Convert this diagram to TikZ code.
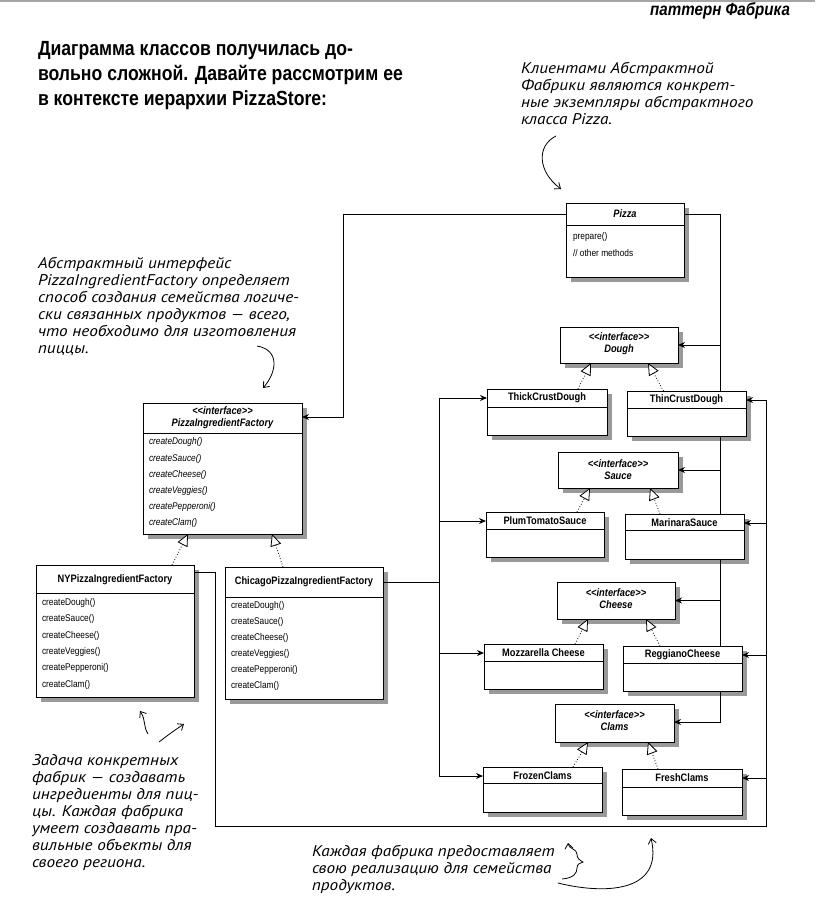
\documentclass[tikz,border=0pt]{standalone}
\usepackage{fontspec}
\usetikzlibrary{arrows.meta,fit}
\newfontfamily\umlfont[FakeStretch=0.86]{Liberation Sans}
\newfontfamily\handfont[FakeStretch=1.11]{PT Sans}

\pgfdeclarelayer{paper}
\pgfdeclarelayer{shadowlayer}
\pgfdeclarelayer{wirelayer}
\pgfsetlayers{paper,shadowlayer,wirelayer,main}

\tikzset{
  every node/.style={inner sep=0pt, outer sep=0pt},
  classframe/.style={draw=black, line width=0.7pt, fill=white, inner sep=0pt, fit=#1},
  boxshadow/.style={fill=black!40},
  wire/.style={line width=1pt},
  assoc/.style={wire, -{Stealth[length=7pt,width=6pt]}},
  bothassoc/.style={wire, {Stealth[length=7pt,width=6pt]}-{Stealth[length=7pt,width=6pt]}},
  realize/.style={line width=0.8pt, dotted, -{Triangle[fill=white,length=12pt,width=11pt,line width=0.8pt]}},
  ctitle/.style={font=\umlfont\bfseries\fontsize{10.8}{12}\selectfont},
  ititle/.style={font=\umlfont\bfseries\itshape\fontsize{10.8}{12}\selectfont},
  method/.style={anchor=west, font=\umlfont\fontsize{9.7}{11}\selectfont},
  imethod/.style={anchor=west, font=\umlfont\itshape\fontsize{9.7}{11}\selectfont},
  handnote/.style={anchor=north west, align=left, font=\handfont\itshape\fontsize{15.5}{17}\selectfont},
  pen/.style={line width=0.8pt, -{Straight Barb[length=5pt,width=8pt]}},
}

% #1 name, (#2,#3) top left corner, (#4,#5) bottom right corner, #6 divider y (empty: none)
\newcommand{\umlclass}[6]{%
  \begin{pgfonlayer}{shadowlayer}
    \fill[boxshadow] (#2+5,#3+5) rectangle (#4+5,#5+5);
  \end{pgfonlayer}
  \coordinate (#1-nw) at (#2,#3);
  \coordinate (#1-se) at (#4,#5);
  \node[classframe=(#1-nw)(#1-se)] (#1) {};
  \ifx&#6&\else\draw[line width=0.6pt] (#2,#6) -- (#4,#6);\fi
}

\begin{document}
\begin{tikzpicture}[x=1pt,y=-1pt]
\useasboundingbox (0,0) rectangle (819,918);
\begin{pgfonlayer}{paper}
  \fill[white] (0,0) rectangle (819,918);
\end{pgfonlayer}

% page header
\draw[black!35, line width=2.5pt] (0,1) -- (815,1);
\node[anchor=east, font=\umlfont\bfseries\itshape\fontsize{17.6}{19}\selectfont] (header) at (790,11) {паттерн Фабрика};

% heading
\node[anchor=north west, align=left, font=\umlfont\bfseries\fontsize{20.5}{25}\selectfont] (heading) at (38,41)
  {Диаграмма классов получилась до-\\вольно сложной. Давайте рассмотрим ее\\в контексте иерархии PizzaStore:};

% ---------------- classes ----------------
\umlclass{pizza}{566}{203}{684}{277}{225}
\node[ititle] (pizza-title) at (625,214) {Pizza};
\node[method] (pizza-m1) at (573,237) {prepare()};
\node[method] (pizza-m2) at (573,253) {// other methods};

\umlclass{dough}{560}{327}{678}{363}{}
\node[ititle, align=center] (dough-title) at (619,344) {<{}<interface>{}>\\Dough};
\umlclass{thick}{487}{389}{607}{435}{407}
\node[ctitle] (thick-title) at (547,398) {ThickCrustDough};
\umlclass{thin}{627}{391}{746}{436}{408}
\node[ctitle] (thin-title) at (686.5,400) {ThinCrustDough};

\umlclass{sauce}{558}{452}{678}{488}{}
\node[ititle, align=center] (sauce-title) at (618,470) {<{}<interface>{}>\\Sauce};
\umlclass{plum}{486}{512}{604}{557}{529}
\node[ctitle] (plum-title) at (545,521) {PlumTomatoSauce};
\umlclass{marinara}{625}{514}{744}{559}{530}
\node[ctitle] (marinara-title) at (684.5,523) {MarinaraSauce};

\umlclass{cheese}{557}{582}{675}{619}{}
\node[ititle, align=center] (cheese-title) at (616,599) {<{}<interface>{}>\\Cheese};
\umlclass{mozz}{484}{644}{603}{689}{661}
\node[ctitle] (mozz-title) at (543.5,653) {Mozzarella Cheese};
\umlclass{regg}{623}{646}{742}{691}{663}
\node[ctitle] (regg-title) at (682.5,655) {ReggianoCheese};

\umlclass{clams}{555}{704}{674}{742}{}
\node[ititle, align=center] (clams-title) at (614.5,721) {<{}<interface>{}>\\Clams};
\umlclass{frozen}{483}{767}{602}{812}{783}
\node[ctitle] (frozen-title) at (542.5,776) {FrozenClams};
\umlclass{fresh}{622}{769}{742}{815}{787}
\node[ctitle] (fresh-title) at (682,778) {FreshClams};

\umlclass{pif}{143}{403}{302}{534}{433}
\node[ititle, align=center] (pif-title) at (222.5,418) {<{}<interface>{}>\\PizzaIngredientFactory};
\node[imethod] (pif-m1) at (149,442) {createDough()};
\node[imethod] (pif-m2) at (149,459) {createSauce()};
\node[imethod] (pif-m3) at (149,475) {createCheese()};
\node[imethod] (pif-m4) at (149,491) {createVeggies()};
\node[imethod] (pif-m5) at (149,507) {createPepperoni()};
\node[imethod] (pif-m6) at (149,523) {createClam()};

\umlclass{ny}{36}{565}{194}{697}{593}
\node[ctitle] (ny-title) at (115,580) {NYPizzaIngredientFactory};
\node[method] (ny-m1) at (42,603) {createDough()};
\node[method] (ny-m2) at (42,619) {createSauce()};
\node[method] (ny-m3) at (42,636) {createCheese()};
\node[method] (ny-m4) at (42,652) {createVeggies()};
\node[method] (ny-m5) at (42,668) {createPepperoni()};
\node[method] (ny-m6) at (42,685) {createClam()};

\umlclass{chicago}{225}{567}{383}{699}{597}
\node[ctitle] (chicago-title) at (304,582) {ChicagoPizzaIngredientFactory};
\node[method] (chicago-m1) at (231,606) {createDough()};
\node[method] (chicago-m2) at (231,622) {createSauce()};
\node[method] (chicago-m3) at (231,638) {createCheese()};
\node[method] (chicago-m4) at (231,654) {createVeggies()};
\node[method] (chicago-m5) at (231,670) {createPepperoni()};
\node[method] (chicago-m6) at (231,686) {createClam()};

% ---------------- connectors ----------------
\begin{pgfonlayer}{wirelayer}
  % Pizza uses the factory
  \coordinate (colA) at (343,417);
  \draw[assoc] (pizza.west |- pizza-title) -| (colA) -- (pif.east |- colA);

  % Pizza holds the ingredient interfaces
  \coordinate (busI) at (720,722);
  \draw[assoc] (pizza.east |- pizza-title) -| (busI) -- (clams.east |- busI);
  \draw[assoc] (busI |- dough.east) -- (dough.east);
  \draw[assoc] (busI |- sauce.east) -- (sauce.east);
  \draw[assoc] (busI |- cheese.east) -- (cheese.east);

  % Chicago factory creates its products
  \coordinate (busL) at (439,582);
  \draw[wire] (chicago.east |- chicago-title) -- (busL);
  \draw[bothassoc] (frozen.west |- frozen-title) -| (busL |- thick-title) -- (thick.west |- thick-title);
  \draw[assoc] (busL |- plum-title) -- (plum.west |- plum-title);
  \draw[assoc] (busL |- mozz-title) -- (mozz.west |- mozz-title);

  % NY factory creates its products
  \coordinate (nyTap) at (215,572);
  \coordinate (busO) at (766,826);
  \draw[assoc] (ny.east |- nyTap) -- (nyTap) |- (busO) |- (thin.east |- thin-title);
  \draw[assoc] (busO |- marinara-title) -- (marinara.east |- marinara-title);
  \draw[assoc] (busO |- regg-title) -- (regg.east |- regg-title);
  \draw[assoc] (busO |- fresh-title) -- (fresh.east |- fresh-title);

  % realizations
  \draw[realize] ([xshift=31pt]thick.north) -- ([xshift=-28pt]dough.south);
  \draw[realize] ([xshift=-23pt]thin.north) -- ([xshift=29pt]dough.south);
  \draw[realize] ([xshift=32pt]plum.north) -- ([xshift=-28pt]sauce.south);
  \draw[realize] ([xshift=-24.5pt]marinara.north) -- ([xshift=32pt]sauce.south);
  \draw[realize] ([xshift=31.5pt]mozz.north) -- ([xshift=-28pt]cheese.south);
  \draw[realize] ([xshift=-22.5pt]regg.north) -- ([xshift=30pt]cheese.south);
  \draw[realize] ([xshift=30.5pt]frozen.north) -- ([xshift=-26.5pt]clams.south);
  \draw[realize] ([xshift=-24pt]fresh.north) -- ([xshift=33.5pt]clams.south);
  \draw[realize] ([xshift=57pt]ny.north) -- ([xshift=-34.5pt]pif.south);
  \draw[realize] ([xshift=-21pt]chicago.north) -- ([xshift=49.5pt]pif.south);
\end{pgfonlayer}

% ---------------- handwritten notes ----------------
\node[handnote] (note-clients) at (521,62)
  {Клиентами Абстрактной\\Фабрики являются конкрет-\\ные экземпляры абстрактного\\класса Pizza.};
\draw[pen] (556,136) .. controls (536,146) and (538,172) .. (561,189);

\node[handnote] (note-abstract) at (38,257)
  {Абстрактный интерфейс\\PizzaIngredientFactory определяет\\способ создания семейства логиче-\\ски связанных продуктов — всего,\\что необходимо для изготовления\\пиццы.};
\draw[pen] (257,346) .. controls (280,350) and (277,372) .. (263,388);

\node[handnote] (note-concrete) at (32,754)
  {Задача конкретных\\фабрик — создавать\\ингредиенты для пиц-\\цы. Каждая фабрика\\умеет создавать пра-\\вильные объекты для\\своего региона.};
\draw[pen] (148,734) .. controls (143,726) and (146,720) .. (140,711);
\draw[pen] (159,742) .. controls (168,735) and (175,730) .. (184,724);

\node[handnote] (note-family) at (312,845)
  {Каждая фабрика предоставляет\\свою реализацию для семейства\\продуктов.};
\draw[pen] (562,879) .. controls (574,878) and (577,873) .. (577,868)
  .. controls (577,864) and (580,863) .. (583,862)
  .. controls (579,860) and (577,858) .. (577,854)
  .. controls (577,849) and (569,849) .. (568,843);
\draw[pen] (558,883) .. controls (602,894) and (664,894) .. (651,838);
\end{tikzpicture}
\end{document}
